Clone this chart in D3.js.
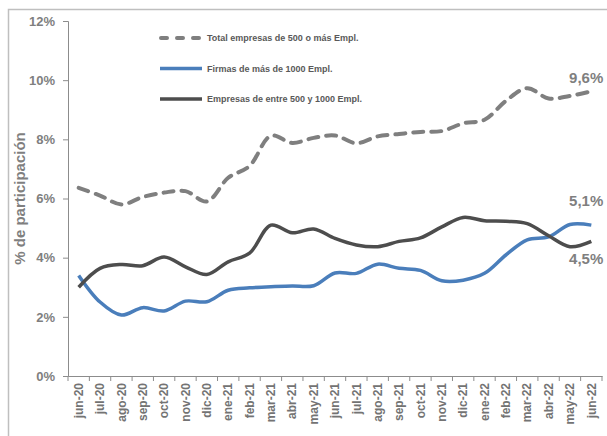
<!DOCTYPE html>
<html>
<head>
<meta charset="utf-8">
<script src="https://cdn.jsdelivr.net/npm/d3@7"></script>
<style>
  body { margin: 0; background: #fff; }
  svg text { font-family: "Liberation Sans", Arial, sans-serif; font-weight: bold; }
</style>
</head>
<body>
<svg id="chart" width="607" height="436"></svg>
<script>
// months on the x axis
var months = ['jun-20', 'jul-20', 'ago-20', 'sep-20', 'oct-20', 'nov-20', 'dic-20',
    'ene-21', 'feb-21', 'mar-21', 'abr-21', 'may-21', 'jun-21', 'jul-21', 'ago-21',
    'sep-21', 'oct-21', 'nov-21', 'dic-21', 'ene-22', 'feb-22', 'mar-22', 'abr-22',
    'may-22', 'jun-22'];

// % share of each group
var totalEmpresas = [6.36, 6.1, 5.8, 6.05, 6.2, 6.25, 5.9, 6.7, 7.1, 8.12, 7.88, 8.05, 8.13,
    7.87, 8.1, 8.18, 8.25, 8.28, 8.54, 8.66, 9.3, 9.73, 9.38, 9.47, 9.62];
var firmasMas1000 = [3.4, 2.5, 2.06, 2.31, 2.2, 2.53, 2.51, 2.9, 2.98, 3.02, 3.04, 3.05, 3.48,
    3.47, 3.78, 3.64, 3.57, 3.22, 3.24, 3.47, 4.09, 4.6, 4.7, 5.12, 5.1];
var empresas500a1000 = [3.0, 3.64, 3.77, 3.73, 4.02, 3.69, 3.43, 3.86, 4.15, 5.1, 4.84, 4.97,
    4.65, 4.43, 4.37, 4.55, 4.67, 5.04, 5.36, 5.25, 5.23, 5.15, 4.74, 4.37, 4.55];

var yTicks = [0, 2, 4, 6, 8, 10, 12];

var series = [
    { name: 'Total empresas de 500 o más Empl.', values: totalEmpresas, color: '#7f7f7f', dash: '10,8', label: '9,6%' },
    { name: 'Firmas de más de 1000 Empl.', values: firmasMas1000, color: '#4a7ebb', dash: null, label: '5,1%' },
    { name: 'Empresas de entre 500 y 1000 Empl.', values: empresas500a1000, color: '#4d4d4d', dash: null, label: '4,5%' }
];

var margin = { top: 21, left: 68, right: 5, bottom: 60 };
var width = 602 - margin.left;
var height = 376 - margin.top;

var svg = d3.select('#chart');

// outer frame (cut off at right and bottom)
svg.append('rect')
    .attr('x', 8.5).attr('y', 9.5)
    .attr('width', 640).attr('height', 460)
    .attr('fill', 'none')
    .attr('stroke', '#bfbfbf')
    .attr('stroke-width', 1.5);

var chart = svg.append('g')
    .attr('transform', 'translate(' + margin.left + ',' + margin.top + ')');

var x = d3.scaleBand().domain(months).range([0, width]);
var y = d3.scaleLinear().domain([0, 12]).range([height, 0]);

// y axis
var yAxis = chart.append('g')
    .call(d3.axisLeft(y).tickValues(yTicks).tickSize(5).tickPadding(8)
        .tickFormat(function(d) { return d + '%'; }));
yAxis.selectAll('path, line').attr('stroke', '#8c8c8c');
yAxis.selectAll('text').attr('fill', '#7f7f7f').style('font-size', '13px');

// x axis with ticks between categories
var xAxis = chart.append('g')
    .attr('transform', 'translate(0,' + height + ')')
    .call(d3.axisBottom(x).tickSize(0).tickSizeOuter(0));
xAxis.select('path').attr('stroke', '#8c8c8c');
xAxis.selectAll('.tick text')
    .attr('fill', '#737373')
    .style('font-size', '12px')
    .attr('text-anchor', 'end')
    .attr('transform', 'rotate(-90)')
    .attr('x', -7)
    .attr('y', 0)
    .attr('dy', '0.35em');
chart.append('g').selectAll('line')
    .data(d3.range(months.length + 1))
    .enter().append('line')
    .attr('x1', function(i) { return i * x.step(); })
    .attr('x2', function(i) { return i * x.step(); })
    .attr('y1', height).attr('y2', height + 5)
    .attr('stroke', '#8c8c8c');

// y axis title
svg.append('text')
    .attr('transform', 'translate(25,' + (margin.top + height / 2) + ') rotate(-90)')
    .attr('text-anchor', 'middle')
    .attr('fill', '#7f7f7f')
    .style('font-size', '15px')
    .text('% de participación');

var line = d3.line()
    .x(function(d, i) { return x(months[i]) + x.bandwidth() / 2; })
    .y(function(d) { return y(d); })
    .curve(d3.curveCatmullRom.alpha(0.5));

series.forEach(function(s) {
    chart.append('path')
        .datum(s.values)
        .attr('d', line)
        .attr('fill', 'none')
        .attr('stroke', s.color)
        .attr('stroke-width', s.dash ? 4 : 3.5)
        .attr('stroke-linecap', s.dash ? 'round' : 'butt')
        .attr('stroke-dasharray', s.dash);
});

// end labels
var lastX = x(months[months.length - 1]) + x.bandwidth() / 2;
var labelOffsets = [-14, -24, 17];
series.forEach(function(s, i) {
    chart.append('text')
        .attr('x', lastX + 12)
        .attr('y', y(s.values[s.values.length - 1]) + labelOffsets[i])
        .attr('text-anchor', 'end')
        .attr('dy', '0.35em')
        .attr('fill', '#7f7f7f')
        .style('font-size', '15px')
        .text(s.label);
});

// legend
var legend = svg.append('g');
series.forEach(function(s, i) {
    var ly = 38 + i * 30.5;
    legend.append('line')
        .attr('x1', s.dash ? 161 : 160).attr('x2', 202)
        .attr('y1', ly).attr('y2', ly)
        .attr('stroke', s.color)
        .attr('stroke-width', s.dash ? 4 : 3.5)
        .attr('stroke-linecap', s.dash ? 'round' : 'butt')
        .attr('stroke-dasharray', s.dash ? '6,10' : null);
    legend.append('text')
        .attr('x', 207).attr('y', ly)
        .attr('dy', '0.35em')
        .attr('fill', '#595959')
        .style('font-size', '9px')
        .text(s.name);
});
</script>
</body>
</html>
